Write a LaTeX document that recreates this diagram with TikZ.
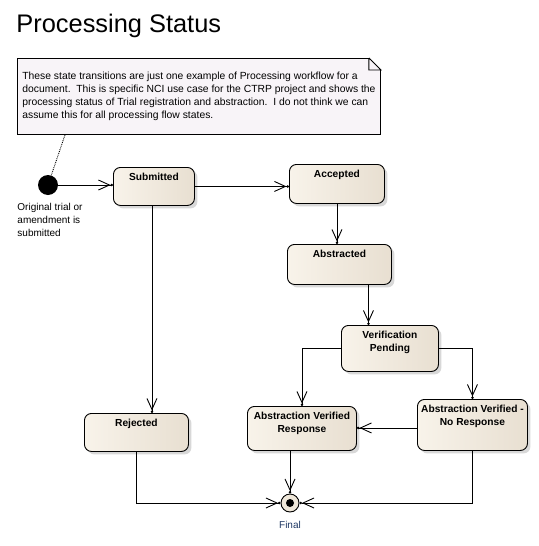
\documentclass[tikz,border=0pt]{standalone}
\usepackage{fontspec}
\setmainfont{Liberation Sans}
\usetikzlibrary{arrows.meta,positioning,shadows}
\definecolor{stateleft}{RGB}{248,243,234}
\definecolor{stateright}{RGB}{232,223,209}
\definecolor{notefill}{RGB}{248,244,248}
\definecolor{endfill}{RGB}{240,232,218}
\definecolor{finalblue}{RGB}{31,56,100}
\newcommand{\statelbl}[3]{\parbox[c][#2][t]{#1}{\centering\vspace*{5.5pt}#3}}
\tikzset{
    statenode/.style={draw=black,line width=0.9pt,rounded corners=7pt,inner sep=0pt,left color=stateleft,right color=stateright,drop shadow={shadow xshift=3pt,shadow yshift=-3pt,fill=black!30},font=\bfseries\fontsize{10.2}{13}\selectfont},
    startnode/.style={circle,fill=black,minimum size=20pt,inner sep=0pt},
    endnode/.style={circle,draw=black,line width=0.9pt,fill=endfill,minimum size=18pt,inner sep=0pt,path picture={\fill[black] (path picture bounding box.center) circle (4pt);}},
    notenode/.style={draw=black,line width=0.9pt,fill=notefill,align=left,inner sep=0pt,minimum width=363pt,minimum height=76pt,font=\fontsize{10.35}{13}\selectfont},
    plaintext/.style={align=left,inner sep=0pt,font=\fontsize{10}{13.3}\selectfont}
}

\begin{document}
\begin{tikzpicture}[->,>={Straight Barb[length=11pt,width=10pt]Circle[length=2.5pt]},x=1pt,y=-1pt,line width=0.9pt]
\useasboundingbox (0,0) rectangle (538,546);

\node[anchor=base west,inner sep=0pt,font=\fontsize{25.4}{30}\selectfont] (title) at (16,32) {Processing Status};

\node[notenode,anchor=north west] (note) at (17,58) {These state transitions are just one example of Processing workflow for a\\document.\ \ This is specific NCI use case for the CTRP project and shows the\\processing status of Trial registration and abstraction.\ \ I do not think we can\\assume this for all processing flow states.};
\fill[white] ([xshift=-12pt]note.north east) -- ([xshift=1pt,yshift=1pt]note.north east) -- ([yshift=-12pt]note.north east) -- cycle;
\draw[-] ([xshift=-12pt]note.north east) |- ([yshift=-12pt]note.north east) -- ([xshift=-12pt]note.north east);

\node[startnode] (init) at (48,185) {};
\node[plaintext,anchor=north west] (initlbl) at (17,202.5) {Original trial or\\amendment is\\submitted};

\node[statenode,anchor=north west] (sub) at (113,167) {\statelbl{81pt}{38pt}{Submitted}};
\node[statenode,anchor=north west] (acc) at (289,164) {\statelbl{95pt}{39pt}{Accepted}};
\node[statenode,anchor=north west] (abs) at (287,244) {\statelbl{104pt}{40pt}{Abstracted}};
\node[statenode,anchor=north west] (vp) at (341,325) {\statelbl{97pt}{46pt}{Verification\\Pending}};
\node[statenode,anchor=north west] (avr) at (247,406) {\statelbl{109pt}{44pt}{Abstraction Verified\\Response}};
\node[statenode,anchor=north west] (avnr) at (417,399) {\statelbl{110pt}{51pt}{Abstraction Verified -\\No Response}};
\node[statenode,anchor=north west] (rej) at (84,413) {\statelbl{104pt}{38pt}{Rejected}};

\node[endnode] (fin) at (290,503) {};
\node[plaintext,text=finalblue,below=8pt of fin] (finlbl) {Final};

\path
([xshift=48pt]note.south west) edge[-,densely dotted] (init)
(init) edge (init -| sub.west)
(sub) edge (sub -| acc.west)
(acc) edge (acc |- abs.north)
([xshift=29pt]abs.south) edge ([xshift=29pt]abs.south |- vp.north)
([xshift=-2pt]sub.south) edge ([xshift=-2pt]sub.south |- rej.north)
([yshift=-3pt]avnr.west) edge ([yshift=-3pt]avnr.west -| avr.east)
(fin |- avr.south) edge (fin);

\draw (vp.west) -| (avr.north);
\draw (vp.east) -| (avnr.north);
\draw (rej.south) |- (fin);
\draw (avnr.south) |- (fin);

\end{tikzpicture}
\end{document}
